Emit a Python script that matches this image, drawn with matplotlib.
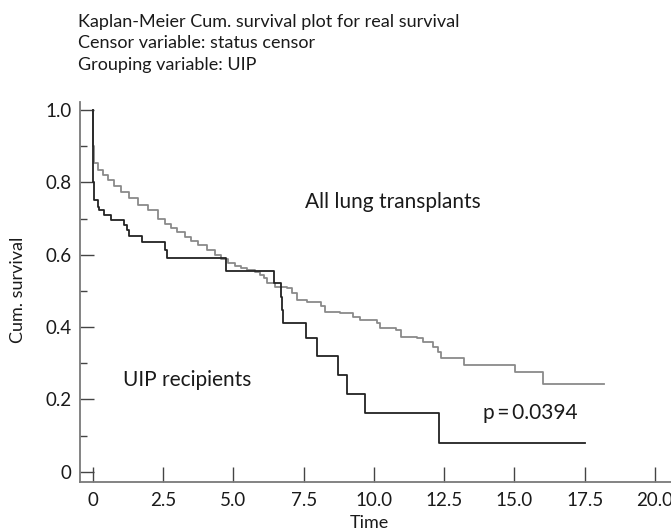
import numpy as np
import matplotlib
matplotlib.use("Agg")
import matplotlib.pyplot as plt
from matplotlib.ticker import MultipleLocator

# all lung transplants (grey curve)
all_time = [0.0, 0.02, 0.04, 0.18, 0.35, 0.53, 0.75, 1.0, 1.3, 1.6, 1.96,
            2.31, 2.55, 2.79, 3.0, 3.26, 3.5, 3.74, 4.05, 4.33, 4.55, 4.8,
            5.05, 5.28, 5.5, 5.75, 5.94, 6.1, 6.18, 6.48, 6.89, 7.07, 7.25,
            7.6, 8.13, 8.26, 8.79, 9.26, 9.5, 10.1, 10.21, 10.8, 10.98,
            11.52, 11.75, 12.1, 12.29, 12.4, 13.2, 15.02, 16.03, 18.2]
all_surv = [1.0, 0.90, 0.853, 0.834, 0.82, 0.807, 0.79, 0.774, 0.756, 0.738,
            0.724, 0.70, 0.686, 0.673, 0.662, 0.65, 0.638, 0.627, 0.613, 0.60,
            0.588, 0.576, 0.569, 0.563, 0.558, 0.553, 0.544, 0.535, 0.521,
            0.512, 0.507, 0.494, 0.475, 0.47, 0.457, 0.443, 0.438, 0.429,
            0.42, 0.411, 0.397, 0.392, 0.374, 0.369, 0.36, 0.346, 0.332,
            0.314, 0.296, 0.277, 0.242, 0.242]

# UIP recipients (black curve)
uip_time = [0.0, 0.02, 0.04, 0.18, 0.22, 0.41, 0.63, 1.1, 1.2, 1.3, 1.74,
            2.57, 2.65, 4.74, 6.45, 6.68, 6.73, 6.76, 7.57, 7.96, 8.73, 9.05,
            9.68, 12.33, 17.5]
uip_surv = [1.0, 0.80, 0.751, 0.733, 0.723, 0.71, 0.696, 0.682, 0.668,
            0.652, 0.636, 0.613, 0.59, 0.556, 0.521, 0.484, 0.447, 0.411,
            0.369, 0.32, 0.268, 0.215, 0.162, 0.08, 0.08]

x_ticks = [0, 2.5, 5.0, 7.5, 10.0, 12.5, 15.0, 17.5, 20.0]
x_labels = ["0", "2.5", "5.0", "7.5", "10.0", "12.5", "15.0", "17.5", "20.0"]
y_ticks = [0, 0.2, 0.4, 0.6, 0.8, 1.0]
y_labels = ["0", "0.2", "0.4", "0.6", "0.8", "1.0"]

plt.rcParams["font.family"] = ["Lato", "DejaVu Sans"]
txt = "#1a1a1a"
axis_col = "#7a7a7a"

fig = plt.figure(figsize=(6.71, 5.32), dpi=100)
ax = fig.add_axes([80 / 671, 1 - 482 / 532, 591 / 671, 380 / 532])

ax.step(all_time, all_surv, where="post", color="#8a8a8a", lw=1.3)
ax.step(uip_time, uip_surv, where="post", color="#222222", lw=1.3)

ax.set_xlim(-0.46, 20.57)
ax.set_ylim(-0.028, 1.022)

for side in ("top", "right"):
    ax.spines[side].set_visible(False)
for side in ("left", "bottom"):
    ax.spines[side].set_color(axis_col)
    ax.spines[side].set_linewidth(1.3)

ax.set_xticks(x_ticks)
ax.set_xticklabels(x_labels)
ax.set_yticks(y_ticks)
ax.set_yticklabels(y_labels)
ax.yaxis.set_minor_locator(MultipleLocator(0.1))
ax.tick_params(axis="x", direction="in", length=11, width=1.0,
               color="#444444", pad=7, labelsize=13.5, labelcolor=txt)
ax.tick_params(axis="y", which="major", direction="in", length=10, width=1.0,
               color="#444444", pad=6, labelsize=13.5, labelcolor=txt)
ax.tick_params(axis="y", which="minor", direction="in", length=5, width=1.0,
               color="#444444")

ax.set_xlabel("Time", fontsize=13, color=txt)
ax.xaxis.set_label_coords(0.49, -0.088)
ax.set_ylabel("Cum. survival", fontsize=13, color=txt)
ax.yaxis.set_label_coords(-0.091, 0.505)

ax.text(7.54, 0.746, "All lung transplants", fontsize=15, color=txt,
        va="center", ha="left")
ax.text(1.07, 0.254, "UIP recipients", fontsize=15, color=txt,
        va="center", ha="left")
ax.text(13.88, 0.163, "p\u2009=\u20090.0394", fontsize=15, color=txt,
        va="center", ha="left")

fig.text(78 / 671, 1 - 14 / 532,
         "Kaplan-Meier Cum. survival plot for real survival\n"
         "Censor variable: status censor\n"
         "Grouping variable: UIP",
         fontsize=13, color=txt, va="top", ha="left", linespacing=1.42)

fig.savefig("out.png", dpi=100)
